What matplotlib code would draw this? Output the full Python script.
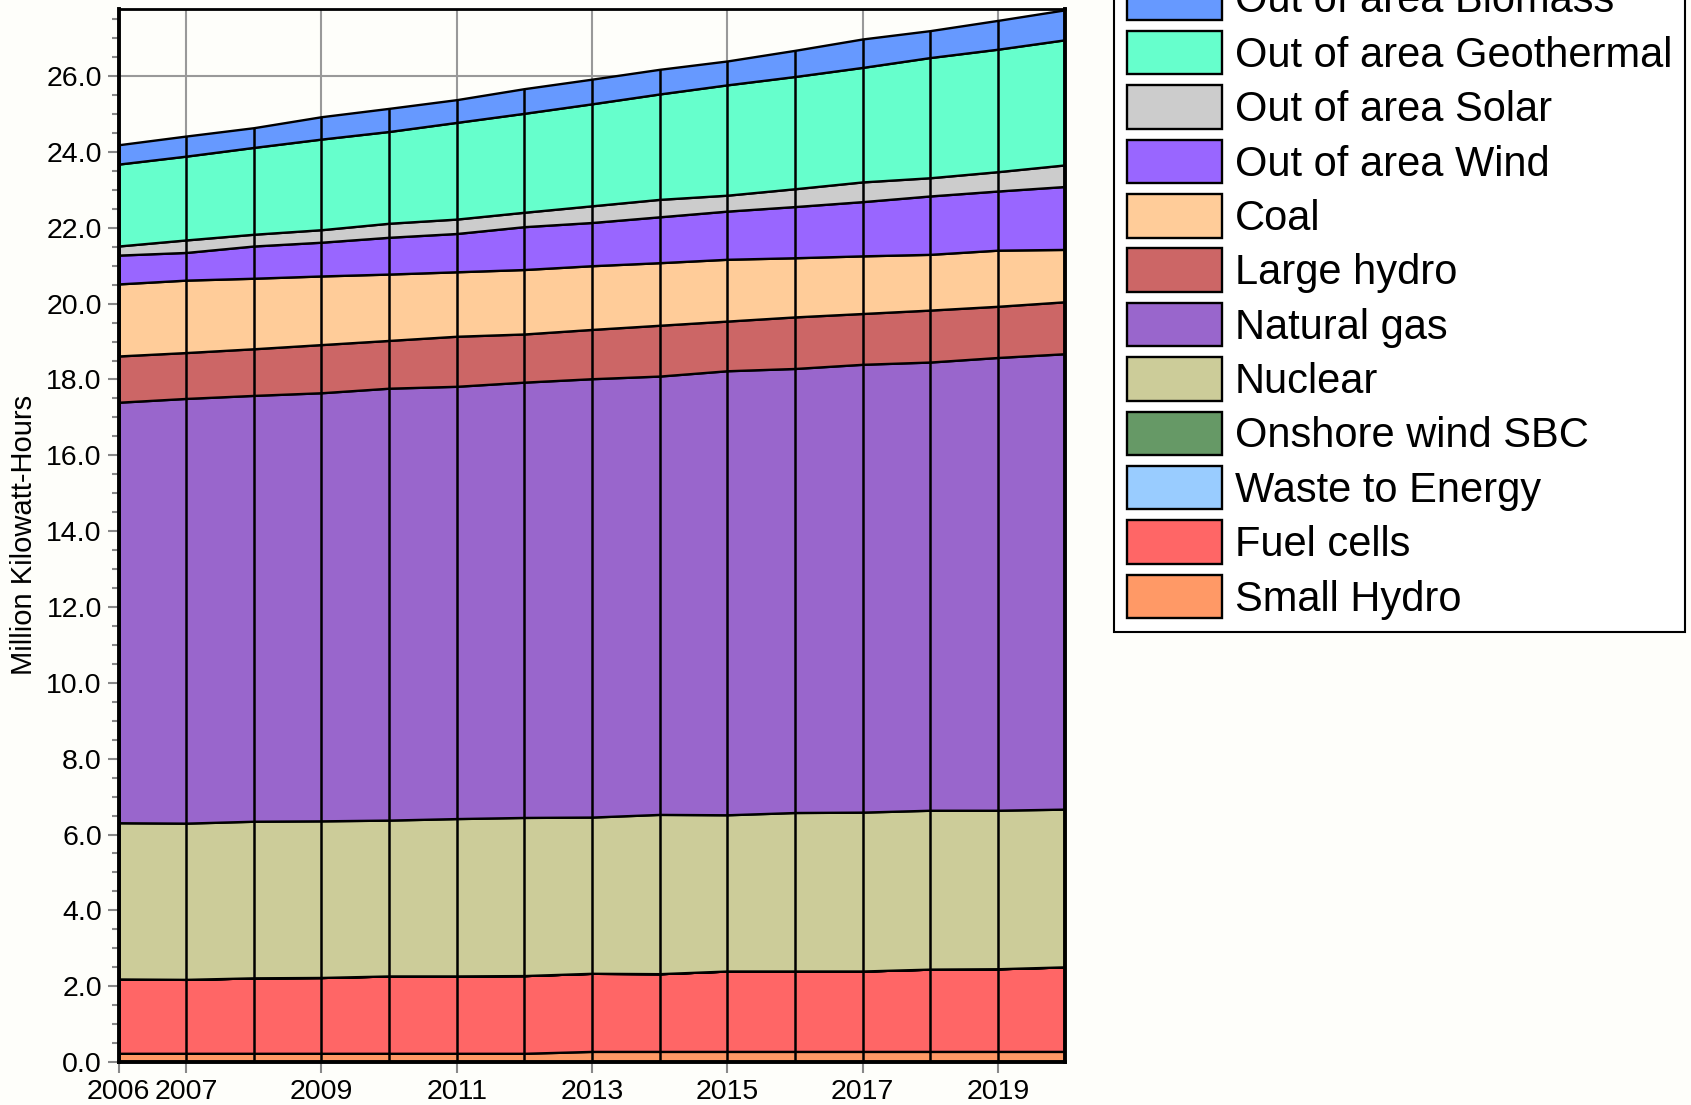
import matplotlib
matplotlib.use('Agg')
import matplotlib.pyplot as plt
from matplotlib.ticker import MultipleLocator, FormatStrFormatter

plt.rcParams['font.family'] = ['Liberation Sans', 'DejaVu Sans']

years = list(range(2006, 2021))

# values in million kWh, stacked bottom to top
small_hydro = [0.23, 0.23, 0.23, 0.23, 0.23, 0.23, 0.23, 0.28, 0.28, 0.28, 0.28, 0.28, 0.28, 0.28, 0.28]
fuel_cells = [1.96, 1.95, 1.99, 2.00, 2.04, 2.04, 2.05, 2.06, 2.05, 2.12, 2.12, 2.12, 2.17, 2.18, 2.23]
waste_to_energy = [0.0] * 15
onshore_wind_sbc = [0.0] * 15
nuclear = [4.12, 4.12, 4.13, 4.13, 4.11, 4.15, 4.17, 4.12, 4.20, 4.12, 4.18, 4.19, 4.19, 4.18, 4.16]
natural_gas = [11.09, 11.20, 11.23, 11.29, 11.39, 11.40, 11.48, 11.56, 11.56, 11.71, 11.71, 11.81, 11.82, 11.94, 12.01]
large_hydro = [1.22, 1.21, 1.23, 1.27, 1.26, 1.32, 1.27, 1.30, 1.34, 1.31, 1.36, 1.34, 1.37, 1.35, 1.37]
coal = [1.90, 1.91, 1.86, 1.81, 1.75, 1.70, 1.70, 1.68, 1.65, 1.63, 1.56, 1.52, 1.47, 1.48, 1.38]
ooa_wind = [0.76, 0.73, 0.85, 0.89, 0.97, 1.01, 1.13, 1.14, 1.21, 1.27, 1.35, 1.43, 1.54, 1.56, 1.66]
ooa_solar = [0.24, 0.33, 0.31, 0.33, 0.37, 0.38, 0.38, 0.44, 0.46, 0.42, 0.47, 0.52, 0.48, 0.51, 0.57]
ooa_geothermal = [2.16, 2.21, 2.29, 2.39, 2.42, 2.55, 2.61, 2.69, 2.78, 2.91, 2.96, 3.02, 3.17, 3.23, 3.30]
ooa_biomass = [0.51, 0.53, 0.52, 0.59, 0.61, 0.60, 0.65, 0.65, 0.65, 0.63, 0.69, 0.75, 0.71, 0.76, 0.79]

labels = ['Small Hydro', 'Fuel cells', 'Waste to Energy', 'Onshore wind SBC', 'Nuclear',
          'Natural gas', 'Large hydro', 'Coal', 'Out of area Wind', 'Out of area Solar',
          'Out of area Geothermal', 'Out of area Biomass']
series = [small_hydro, fuel_cells, waste_to_energy, onshore_wind_sbc, nuclear, natural_gas,
          large_hydro, coal, ooa_wind, ooa_solar, ooa_geothermal, ooa_biomass]
colors = ['#FF9966', '#FF6666', '#99CCFF', '#669966', '#CCCC99', '#9966CC',
          '#CC6666', '#FFCC99', '#9966FF', '#CCCCCC', '#66FFCC', '#6699FF']

bg = '#fefefa'
fig = plt.figure(figsize=(16.91, 11.05), dpi=100, facecolor=bg)
ax = fig.add_axes([0.0701, 0.0389, 0.5600, 0.9533], facecolor=bg)

polys = ax.stackplot(years, series, labels=labels, colors=colors,
                     edgecolor='black', linewidth=1.7)

totals = [sum(vals) for vals in zip(*series)]
ax.vlines(years, 0, totals, colors='black', linewidth=1.8, zorder=2)

ax.set_xlim(2006, 2020)
ax.set_ylim(0, 27.78)
ax.set_xticks([2006, 2007, 2009, 2011, 2013, 2015, 2017, 2019])
ax.yaxis.set_major_locator(MultipleLocator(2.0))
ax.yaxis.set_minor_locator(MultipleLocator(0.5))
ax.yaxis.set_major_formatter(FormatStrFormatter('%.1f'))

ax.grid(True, which='major', color='#999999', linewidth=1.5)
ax.set_axisbelow(True)

ax.tick_params(axis='both', which='major', labelsize=20.5, color='#888888',
               width=1.5, length=8, pad=4)
ax.tick_params(axis='y', which='minor', color='#888888', width=1.5, length=5)
ax.set_ylabel('Million Kilowatt-Hours', fontsize=21, labelpad=6)

for side in ['left', 'bottom', 'right']:
    ax.spines[side].set_linewidth(2.8)
ax.spines['top'].set_linewidth(2)

handles = polys[::-1]
leg = fig.legend(handles, labels[::-1], loc='lower left',
                 bbox_to_anchor=(1114 / 1691, 1 - 632 / 1105),
                 fontsize=30, handlelength=2.3, handleheight=1.23,
                 handletextpad=0.3, labelspacing=0.23, borderpad=0.3,
                 borderaxespad=0, fancybox=False, framealpha=1,
                 edgecolor='black', facecolor='white')
leg.get_frame().set_linewidth(1.5)

fig.savefig('out.png', dpi=100, facecolor=bg)
